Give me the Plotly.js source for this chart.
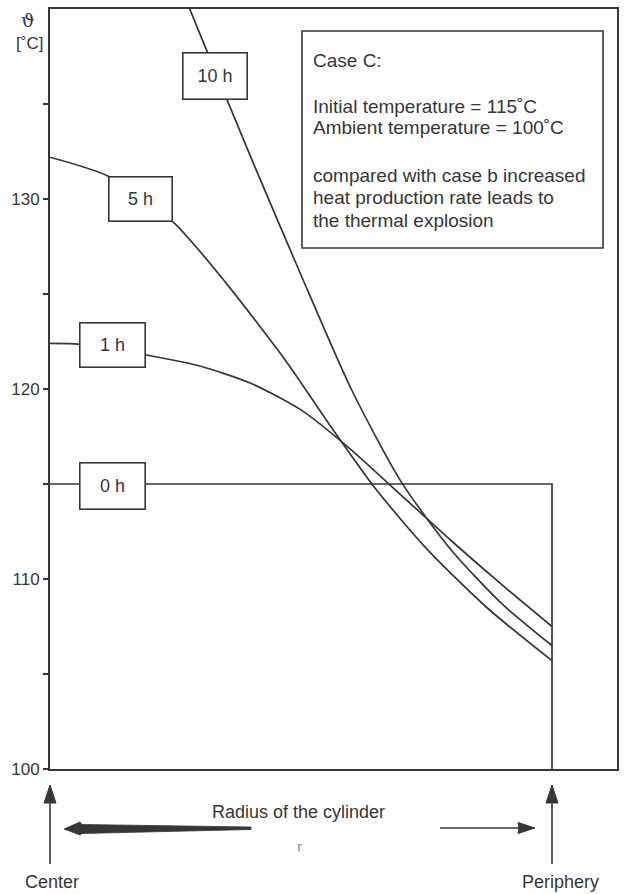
<!DOCTYPE html>
<html>
<head>
<meta charset="utf-8">
<script src="https://cdn.plot.ly/plotly-3.0.1.min.js"></script>
<style>
  html, body { margin: 0; padding: 0; background: #ffffff; }
  #chart { width: 625px; height: 894px; }
</style>
</head>
<body>
<div id="chart"></div>
<script>
// Temperature profiles across the cylinder radius (r = 0 centre, r = 1 periphery)
const profileNames = ['0 h', '1 h', '5 h', '10 h'];

const r0h = [0, 1, 1];
const t0h = [115, 115, 100];

const r1h = [0, 0.06, 0.2, 0.3, 0.4, 0.5, 0.6, 0.7, 0.8, 0.9, 1.0];
const t1h = [122.4, 122.35, 121.75, 121.2, 120.3, 118.9, 116.8, 114.4, 112.0, 109.7, 107.5];

const r5h = [0, 0.116, 0.245, 0.35, 0.472, 0.56, 0.647, 0.75, 0.87, 1.0];
const t5h = [132.2, 131.2, 128.8, 125.6, 121.4, 118.0, 114.8, 111.6, 108.5, 105.7];

const r10h = [0.26, 0.3, 0.4, 0.5, 0.6, 0.7, 0.8, 0.9, 1.0];
const t10h = [141.2, 138.6, 132.2, 126.0, 120.0, 115.1, 111.5, 108.7, 106.5];

const yTickVals = [100, 105, 110, 115, 120, 125, 130, 135];
const yTickText = ['100', '', '110', '', '120', '', '130', ''];

const noteLines = [
  'Case C:',
  'Initial temperature = 115\u02DAC',
  'Ambient temperature = 100\u02DAC',
  'compared with case b increased',
  'heat production rate leads to',
  'the thermal explosion'
];

// ---- page geometry ----
const W = 625, H = 894;
const M = { l: 50, r: 8, t: 9, b: 125 };
const PW = W - M.l - M.r, PH = H - M.t - M.b;
const px = x => (x - M.l) / PW;      // page x -> paper x
const py = y => (M.t + PH - y) / PH; // page y -> paper y

const ink = '#363636';
const font = 'Liberation Sans, Arial, Helvetica, sans-serif';

function curve(x, y, name) {
  return {
    type: 'scatter', mode: 'lines', x: x, y: y, name: name,
    line: { color: ink, width: 1.7, shape: 'spline', smoothing: 0.7 },
    hoverinfo: 'skip'
  };
}

const traces = [
  { type: 'scatter', mode: 'lines', x: r0h, y: t0h, name: profileNames[0],
    line: { color: ink, width: 1.7 }, hoverinfo: 'skip' },
  curve(r1h, t1h, profileNames[1]),
  curve(r5h, t5h, profileNames[2]),
  curve(r10h, t10h, profileNames[3])
];

// boxed time labels sitting on their curves
function tag(text, x, y, w, h) {
  return {
    text: text, x: x, y: y, xref: 'x', yref: 'y', showarrow: false,
    xanchor: 'center', yanchor: 'middle',
    width: w, height: h, borderpad: 0, bgcolor: '#ffffff',
    bordercolor: ink, borderwidth: 1.6,
    font: { family: font, size: 18, color: ink }
  };
}

// free text placed on the page
function label(text, x, y, size, extra) {
  return Object.assign({
    text: text, xref: 'paper', yref: 'paper', x: px(x), y: py(y),
    xanchor: 'center', yanchor: 'middle', showarrow: false,
    font: { family: font, size: size, color: ink }
  }, extra || {});
}

const annotations = [
  tag(profileNames[3], 0.329, 136.5, 63, 45),
  tag(profileNames[2], 0.180, 130.0, 62, 43),
  tag(profileNames[1], 0.1245, 122.3, 64, 43),
  tag(profileNames[0], 0.1245, 114.9, 64, 45),
  label('\u03D1', 28, 20, 19, { font: { family: 'DejaVu Serif, serif', size: 19, color: ink } }),
  label('[\u02DAC]', 29, 43, 17),
  label('Radius of the cylinder', 298, 812, 18),
  label('r', 299, 846, 15, { font: { family: 'Liberation Serif, serif', size: 15, color: '#888' } }),
  label('Center', 52, 882, 18),
  label('Periphery', 560, 882, 18)
];

const noteY = [61, 106, 128, 175, 197, 220];
noteLines.forEach((s, i) => {
  annotations.push(label(s, 311, noteY[i], 19, { xanchor: 'left' }));
});

function path(points) {
  return 'M' + points.map(p => px(p[0]) + ',' + py(p[1])).join('L') + 'Z';
}

const shapes = [
  // note frame
  { type: 'rect', xref: 'paper', yref: 'paper', x0: px(302), x1: px(603), y0: py(31), y1: py(248),
    line: { color: ink, width: 1.6 }, fillcolor: 'rgba(0,0,0,0)' },
  // centre marker arrow
  { type: 'line', xref: 'paper', yref: 'paper', x0: px(50), x1: px(50), y0: py(800), y1: py(864),
    line: { color: ink, width: 1.6 } },
  { type: 'path', xref: 'paper', yref: 'paper', path: path([[50, 785], [56, 803], [44, 803]]),
    fillcolor: ink, line: { color: ink, width: 1 } },
  // periphery marker arrow
  { type: 'line', xref: 'paper', yref: 'paper', x0: px(552), x1: px(552), y0: py(800), y1: py(864),
    line: { color: ink, width: 1.6 } },
  { type: 'path', xref: 'paper', yref: 'paper', path: path([[552, 785], [558, 803], [546, 803]]),
    fillcolor: ink, line: { color: ink, width: 1 } },
  // tapered arrow pointing to the centre
  { type: 'path', xref: 'paper', yref: 'paper',
    path: path([[64, 829], [80, 822], [82, 824.5], [251, 827], [251, 829.5], [82, 833.5], [80, 835]]),
    fillcolor: ink, line: { color: ink, width: 0.8 } },
  // thin arrow pointing to the periphery
  { type: 'line', xref: 'paper', yref: 'paper', x0: px(440), x1: px(520), y0: py(828), y1: py(828),
    line: { color: ink, width: 1.4 } },
  { type: 'path', xref: 'paper', yref: 'paper', path: path([[535, 828], [518, 822.5], [519, 828], [518, 833.5]]),
    fillcolor: ink, line: { color: ink, width: 1 } }
];

const layout = {
  width: W, height: H,
  margin: M,
  paper_bgcolor: '#ffffff', plot_bgcolor: '#ffffff',
  showlegend: false,
  xaxis: {
    range: [0, (W - M.r - M.l) / 502], showgrid: false, zeroline: false,
    showline: true, mirror: true, linecolor: ink, linewidth: 2,
    ticks: '', showticklabels: false, fixedrange: true
  },
  yaxis: {
    range: [100, 140], showgrid: false, zeroline: false,
    showline: true, mirror: true, linecolor: ink, linewidth: 2,
    ticks: 'outside', ticklen: 5, tickwidth: 1.5, tickcolor: ink,
    tickvals: yTickVals, ticktext: yTickText,
    tickfont: { family: font, size: 17, color: ink }, fixedrange: true
  },
  annotations: annotations,
  shapes: shapes
};

Plotly.newPlot('chart', traces, layout, { displayModeBar: false, staticPlot: true });
</script>
</body>
</html>
